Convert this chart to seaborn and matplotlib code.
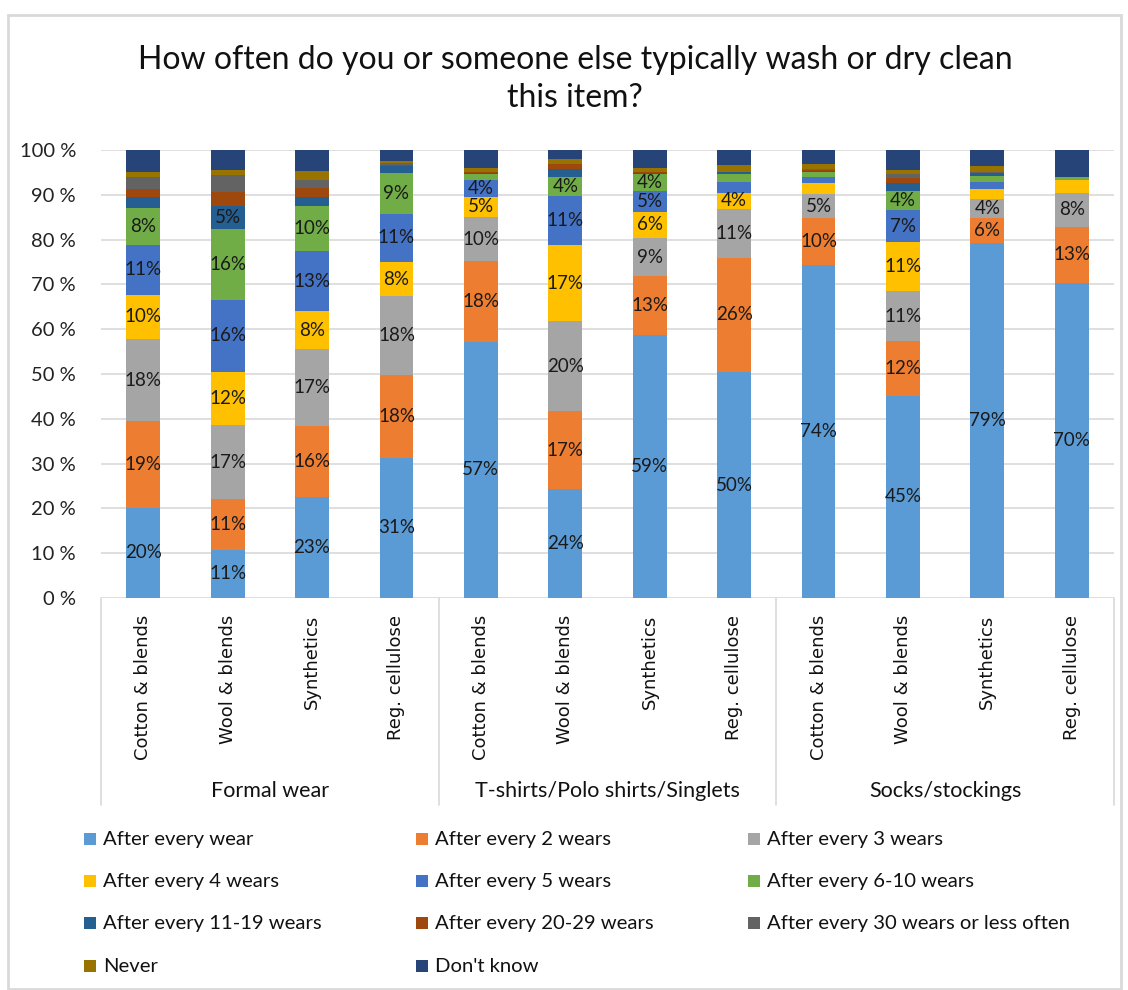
import matplotlib
matplotlib.use("Agg")
import matplotlib.pyplot as plt
import matplotlib.transforms as mtransforms
from matplotlib.patches import Rectangle
import numpy as np
import pandas as pd
import seaborn as sns

# ---- data -----------------------------------------------------------------
garments = ["Formal wear", "T-shirts/Polo shirts/Singlets", "Socks/stockings"]
fabrics = ["Cotton & blends", "Wool & blends", "Synthetics", "Reg. cellulose"]

series_names = [
    "After every wear", "After every 2 wears", "After every 3 wears",
    "After every 4 wears", "After every 5 wears", "After every 6-10 wears",
    "After every 11-19 wears", "After every 20-29 wears",
    "After every 30 wears or less often", "Never", "Don't know",
]

# share of respondents (%), one value per garment/fabric bar
after_every_wear = [20.1, 10.8, 22.6, 31.3, 57.2, 24.3, 58.6, 50.4, 74.4, 45.2, 79.2, 70.3]
after_2_wears = [19.3, 11.2, 15.7, 18.4, 18.0, 17.4, 13.2, 25.6, 10.4, 12.1, 5.6, 12.6]
after_3_wears = [18.4, 16.6, 17.3, 17.6, 9.8, 20.1, 8.6, 10.8, 5.4, 11.2, 4.2, 7.6]
after_4_wears = [9.9, 11.9, 8.4, 7.7, 4.6, 17.0, 5.8, 3.7, 2.4, 11.0, 2.3, 2.7]
after_5_wears = [11.1, 16.0, 13.4, 10.8, 3.6, 10.9, 4.7, 2.4, 1.4, 7.0, 1.6, 0.0]
after_6_10_wears = [8.2, 15.8, 10.2, 9.1, 1.4, 4.3, 3.7, 1.7, 1.0, 4.4, 1.4, 0.8]
after_11_19_wears = [2.4, 5.2, 1.8, 1.5, 0.3, 1.7, 0.3, 0.4, 0.3, 1.7, 0.5, 0.0]
after_20_29_wears = [1.9, 3.2, 2.2, 0.2, 0.1, 1.1, 0.1, 0.1, 0.2, 1.2, 0.1, 0.0]
after_30_plus_wears = [2.7, 3.7, 1.6, 0.4, 0.2, 0.1, 0.2, 0.1, 0.3, 0.8, 0.1, 0.0]
never = [1.0, 1.1, 2.2, 0.6, 0.8, 1.0, 0.7, 1.5, 1.1, 0.9, 1.5, 0.0]
dont_know = [5.0, 4.5, 4.6, 2.4, 4.0, 2.1, 4.1, 3.3, 3.1, 4.5, 3.4, 6.0]

y_ticks = [0, 10, 20, 30, 40, 50, 60, 70, 80, 90, 100]

series_values = [
    after_every_wear, after_2_wears, after_3_wears, after_4_wears,
    after_5_wears, after_6_10_wears, after_11_19_wears, after_20_29_wears,
    after_30_plus_wears, never, dont_know,
]

colors = [
    "#5B9BD5", "#ED7D31", "#A5A5A5", "#FFC000", "#4472C4", "#70AD47",
    "#255E91", "#9E480E", "#636363", "#997300", "#264478",
]

# ---- long table with cumulative tops ---------------------------------------
bar_keys = [f"{g}|{f}" for g in garments for f in fabrics]
rows = []
for s_idx, (name, vals) in enumerate(zip(series_names, series_values)):
    for b_idx, key in enumerate(bar_keys):
        rows.append({"bar": key, "series": name, "s_idx": s_idx, "value": vals[b_idx]})
df = pd.DataFrame(rows)
df["top"] = df.groupby("bar")["value"].cumsum()
df["bottom"] = df["top"] - df["value"]

# ---- figure ----------------------------------------------------------------
W, H = 1128, 990
fig = plt.figure(figsize=(W / 100, H / 100), dpi=100)
sns.set_style("white")
plt.rcParams["font.family"] = ["Lato", "DejaVu Sans"]

ax = fig.add_axes([101 / W, 1 - 598 / H, (1114 - 101) / W, (598 - 150) / H])

# stacked bars: paint cumulative totals from the top series down
for s_idx in range(len(series_names) - 1, -1, -1):
    sub = df[df["s_idx"] == s_idx]
    sns.barplot(data=sub, x="bar", y="top", order=bar_keys, color=colors[s_idx],
                saturation=1, width=0.4, linewidth=0, errorbar=None, ax=ax, zorder=3)

# value labels on the main segments
for _, r in df.iterrows():
    if r["s_idx"] <= 6 and r["value"] >= 3.5:
        ax.text(bar_keys.index(r["bar"]), r["bottom"] + r["value"] / 2,
                f"{r['value']:.0f}%", ha="center", va="center",
                fontsize=13.5, color="#1a1a1a", zorder=5)

ax.set_ylim(0, 100)
ax.set_xlim(-0.5, len(bar_keys) - 0.5)
ax.set_yticks(y_ticks)
ax.set_yticklabels([f"{t} %" for t in y_ticks], fontsize=14.5, color="#222222")
ax.set_xticks(range(len(bar_keys)))
ax.set_xticklabels([k.split("|")[1] for k in bar_keys], rotation=90,
                   fontsize=13, family="DejaVu Sans", color="#111111")
ax.tick_params(axis="x", length=0, pad=12)
ax.tick_params(axis="y", length=0, pad=18)
ax.set_xlabel("")
ax.set_ylabel("")
ax.grid(axis="y", color="#D9D9D9", linewidth=1.2, zorder=0)
ax.set_axisbelow(True)
for sp in ax.spines.values():
    sp.set_visible(False)

# group separators and group names under the fabric labels
trans = mtransforms.blended_transform_factory(ax.transData, ax.transAxes)
for i in range(len(garments) + 1):
    xb = i * len(fabrics) - 0.5
    ax.plot([xb, xb], [0, -0.462], transform=trans, color="#D9D9D9",
            linewidth=1.2, clip_on=False)
for i, g in enumerate(garments):
    xc = i * len(fabrics) + (len(fabrics) - 1) / 2
    ax.text(xc, -0.43, g, transform=trans, ha="center", va="center",
            fontsize=15.5, color="#111111")

# title
fig.text(0.51, 1 - 79 / H,
         "How often do you or someone else typically wash or dry clean\nthis item?",
         ha="center", va="center", fontsize=23, color="#111111", linespacing=1.3)

# legend, laid out in three columns, row by row
col_x = [84, 416, 748]
row_y = [839, 881, 923, 966]
for i, name in enumerate(series_names):
    r, c = divmod(i, 3)
    x0, yc = col_x[c], row_y[r]
    fig.add_artist(Rectangle((x0 / W, 1 - (yc + 6) / H), 12 / W, 12 / H,
                             transform=fig.transFigure, facecolor=colors[i],
                             edgecolor="none"))
    fig.text((x0 + 19) / W, 1 - yc / H, name, ha="left", va="center",
             fontsize=14.6, color="#111111")

# chart frame
fig.add_artist(Rectangle((8 / W, 1 - 989 / H), (1121 - 8) / W, (989 - 15) / H,
                         transform=fig.transFigure, facecolor="none",
                         edgecolor="#D9D9D9", linewidth=2))

fig.savefig("out.png", dpi=100)
